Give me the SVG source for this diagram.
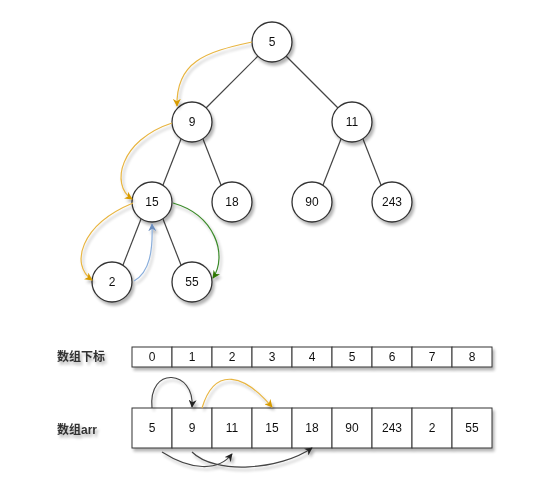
<svg xmlns="http://www.w3.org/2000/svg" width="550" height="478" viewBox="0 0 550 478">
<defs>
<filter id="sh" x="-20%" y="-20%" width="150%" height="150%">
<feGaussianBlur in="SourceAlpha" stdDeviation="1.5"/>
<feOffset dx="2" dy="3" result="b"/>
<feComponentTransfer><feFuncA type="linear" slope="0.3"/></feComponentTransfer>
<feMerge><feMergeNode/><feMergeNode in="SourceGraphic"/></feMerge>
</filter>
<marker id="aK" viewBox="0 0 10 10" refX="9" refY="5" markerWidth="8" markerHeight="8" orient="auto" markerUnits="userSpaceOnUse"><path d="M0,0 L10,5 L0,10 L3,5 Z" fill="#222"/></marker>
<marker id="aO" viewBox="0 0 10 10" refX="9" refY="5" markerWidth="8" markerHeight="8" orient="auto" markerUnits="userSpaceOnUse"><path d="M0,0 L10,5 L0,10 L3,5 Z" fill="#d79b00"/></marker>
<marker id="aB" viewBox="0 0 10 10" refX="9" refY="5" markerWidth="8" markerHeight="8" orient="auto" markerUnits="userSpaceOnUse"><path d="M0,0 L10,5 L0,10 L3,5 Z" fill="#6c8ebf"/></marker>
<marker id="aG" viewBox="0 0 10 10" refX="9" refY="5" markerWidth="8" markerHeight="8" orient="auto" markerUnits="userSpaceOnUse"><path d="M0,0 L10,5 L0,10 L3,5 Z" fill="#2d7600"/></marker>
</defs>
<style>
.n circle{fill:#fff;stroke:#333;stroke-width:1.3}
.c rect{fill:#fff;stroke:#333;stroke-width:1}
text{font-family:"Liberation Sans",Arial,"Noto Sans CJK SC",sans-serif;font-size:12px;fill:#111;text-anchor:middle;dominant-baseline:central}
.lbl{text-anchor:start;font-weight:bold;fill:#333}
.e{stroke:#444;stroke-width:1.2;fill:none}
.k{stroke:#444;stroke-width:1.2;fill:none;marker-end:url(#aK)}
.o{stroke:#e8b541;stroke-width:1.2;fill:none;marker-end:url(#aO)}
.b{stroke:#8aaedb;stroke-width:1.2;fill:none;marker-end:url(#aB)}
.g{stroke:#3b8a2a;stroke-width:1.2;fill:none;marker-end:url(#aG)}
</style>
<g id="tree-edges">
<line class="e" x1="258" y1="56" x2="206" y2="108"/>
<line class="e" x1="286" y1="56" x2="338" y2="108"/>
<line class="e" x1="181" y1="139" x2="163" y2="185"/>
<line class="e" x1="203" y1="139" x2="221" y2="185"/>
<line class="e" x1="341" y1="139" x2="323" y2="185"/>
<line class="e" x1="363" y1="139" x2="381" y2="185"/>
<line class="e" x1="141" y1="219" x2="123" y2="265"/>
<line class="e" x1="163" y1="219" x2="181" y2="265"/>
</g>
<g id="nodes" filter="url(#sh)">
<g id="n5" class="n"><circle cx="272" cy="42" r="20"/><text x="272" y="42">5</text></g>
<g id="n9" class="n"><circle cx="192" cy="122" r="20"/><text x="192" y="122">9</text></g>
<g id="n11" class="n"><circle cx="352" cy="122" r="20"/><text x="352" y="122">11</text></g>
<g id="n15" class="n"><circle cx="152" cy="202" r="20"/><text x="152" y="202">15</text></g>
<g id="n18" class="n"><circle cx="232" cy="202" r="20"/><text x="232" y="202">18</text></g>
<g id="n90" class="n"><circle cx="312" cy="202" r="20"/><text x="312" y="202">90</text></g>
<g id="n243" class="n"><circle cx="392" cy="202" r="20"/><text x="392" y="202">243</text></g>
<g id="n2" class="n"><circle cx="112" cy="282" r="20"/><text x="112" y="282">2</text></g>
<g id="n55" class="n"><circle cx="192" cy="282" r="20"/><text x="192" y="282">55</text></g>
</g>
<g id="labels" filter="url(#sh)">
<text class="lbl" x="57" y="357">数组下标</text>
<text class="lbl" x="57" y="430">数组arr</text>
</g>
<g id="index-row" class="c" filter="url(#sh)">
<rect x="132" y="347" width="40" height="20"/><text x="152" y="357">0</text>
<rect x="172" y="347" width="40" height="20"/><text x="192" y="357">1</text>
<rect x="212" y="347" width="40" height="20"/><text x="232" y="357">2</text>
<rect x="252" y="347" width="40" height="20"/><text x="272" y="357">3</text>
<rect x="292" y="347" width="40" height="20"/><text x="312" y="357">4</text>
<rect x="332" y="347" width="40" height="20"/><text x="352" y="357">5</text>
<rect x="372" y="347" width="40" height="20"/><text x="392" y="357">6</text>
<rect x="412" y="347" width="40" height="20"/><text x="432" y="357">7</text>
<rect x="452" y="347" width="40" height="20"/><text x="472" y="357">8</text>
</g>
<g id="arr-row" class="c" filter="url(#sh)">
<rect x="132" y="408" width="40" height="40"/><text x="152" y="428">5</text>
<rect x="172" y="408" width="40" height="40"/><text x="192" y="428">9</text>
<rect x="212" y="408" width="40" height="40"/><text x="232" y="428">11</text>
<rect x="252" y="408" width="40" height="40"/><text x="272" y="428">15</text>
<rect x="292" y="408" width="40" height="40"/><text x="312" y="428">18</text>
<rect x="332" y="408" width="40" height="40"/><text x="352" y="428">90</text>
<rect x="372" y="408" width="40" height="40"/><text x="392" y="428">243</text>
<rect x="412" y="408" width="40" height="40"/><text x="432" y="428">2</text>
<rect x="452" y="408" width="40" height="40"/><text x="472" y="428">55</text>
</g>
<g id="connectors" filter="url(#sh)">
<path class="o" d="M252,42 C205,52 176,62 177,106"/>
<path class="o" d="M172,123 C120,140 110,185 132,199"/>
<path class="o" d="M133,203 C80,225 70,265 92,280"/>
<path class="b" d="M134,281 C150,272 153,250 152,224"/>
<path class="g" d="M173,203 C215,215 228,255 213,278"/>
<path class="k" d="M152,408 C148,365 195,370 192,407"/>
<path class="o" d="M202,408 C215,365 245,375 272,407"/>
<path class="k" d="M162,452 C190,470 218,472 232,454"/>
<path class="k" d="M192,452 C215,475 280,470 312,448"/>
</g>
</svg>
